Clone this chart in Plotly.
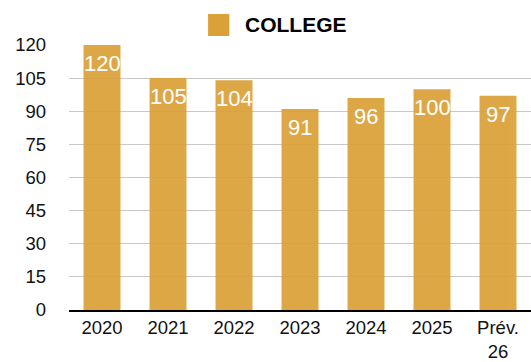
import plotly.graph_objects as go

# Enrolment per year, with the forecast for next year
categories = ["2020", "2021", "2022", "2023", "2024", "2025", "Prév.<br>26"]
values = [120, 105, 104, 91, 96, 100, 97]
series_name = "COLLEGE"
y_ticks = [0, 15, 30, 45, 60, 75, 90, 105, 120]

BAR_COLOR = "#DBA139"
FONT = "Liberation Sans, Arial, Helvetica, sans-serif"
TICK_SIZE = 18.5

fig = go.Figure()
fig.add_trace(go.Bar(
    x=categories,
    y=values,
    name=series_name,
    marker=dict(color=BAR_COLOR, line=dict(width=0)),
    opacity=0.93,
    showlegend=False,
))

# Value labels just inside the top of each bar
# (category axis positions are given by index, since the year names look numeric)
for idx, val in enumerate(values):
    fig.add_annotation(x=idx, y=val, xref="x", yref="y",
                       text=str(val), showarrow=False,
                       xanchor="center", yanchor="top", yshift=-4,
                       font=dict(color="white", size=22, family=FONT))

# Legend swatch and label above the plot
fig.add_shape(type="rect", xref="paper", yref="paper",
              x0=0.301, x1=0.347, y0=1.034, y1=1.117,
              fillcolor=BAR_COLOR, line=dict(width=0))
fig.add_annotation(xref="paper", yref="paper", x=0.377, y=1.077,
                   xanchor="left", yanchor="middle", showarrow=False,
                   text="<b>" + series_name + "</b>",
                   font=dict(size=21, color="black", family=FONT))

fig.update_layout(
    width=531, height=362,
    margin=dict(l=69, r=0, t=45, b=52),
    paper_bgcolor="white", plot_bgcolor="white",
    bargap=0.44,
    font=dict(family=FONT, size=TICK_SIZE, color="#111111"),
)
fig.update_xaxes(
    type="category", categoryorder="array", categoryarray=categories,
    range=[-0.5, len(categories) - 0.5],
    showline=True, linecolor="black", linewidth=2,
    showgrid=False, ticks="", tickfont=dict(size=TICK_SIZE, color="#111111"),
)
fig.update_yaxes(
    range=[0, 120], tickvals=y_ticks, showgrid=True, gridcolor="#C8C8C8",
    gridwidth=1, zeroline=False, showline=False, ticks="",
    ticklabelstandoff=22, tickfont=dict(size=TICK_SIZE, color="#111111"),
)

fig.write_html("out.html")
